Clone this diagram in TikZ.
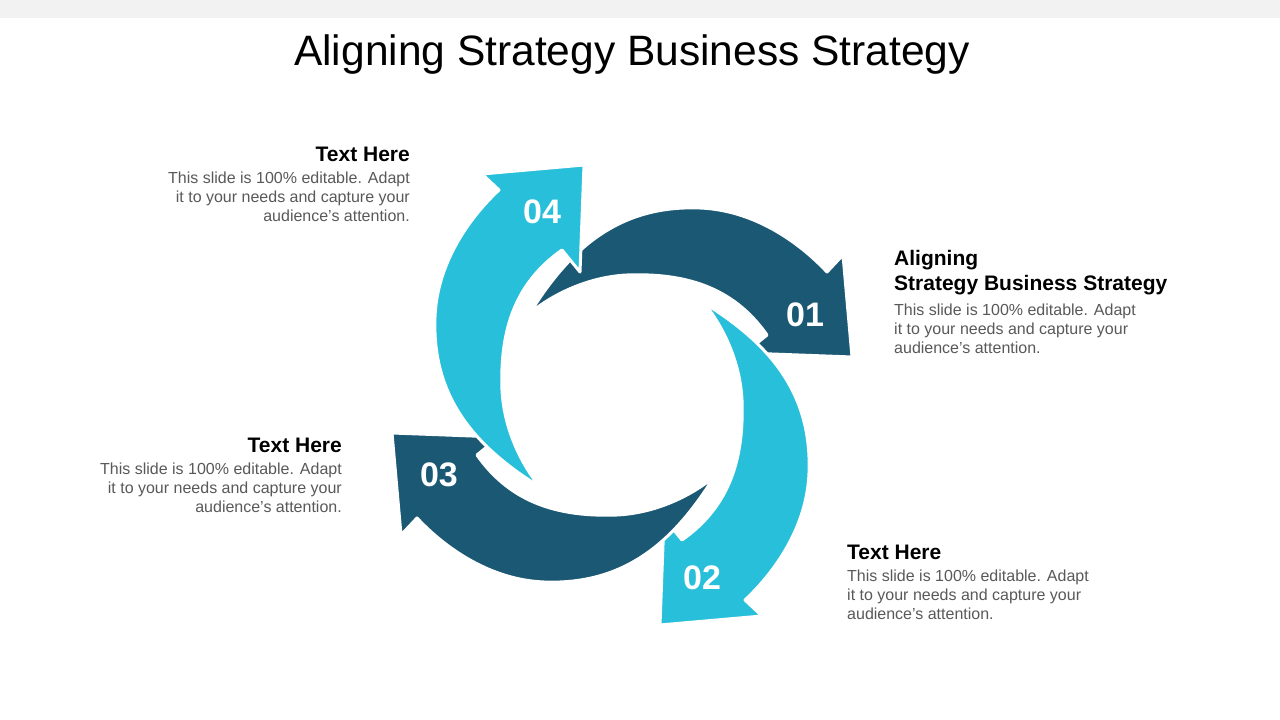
\documentclass[tikz,border=0pt]{standalone}
\usepackage{fontspec}
\setmainfont{Liberation Sans}
\usetikzlibrary{positioning}
\definecolor{darkteal}{HTML}{1A5873}
\definecolor{lightcyan}{HTML}{27BFD9}
\definecolor{bodygray}{HTML}{595959}

\tikzset{
    arrowband/.style = {draw = white, line width = 3pt, line join = round},
    numlabel/.style = {text = white, font = \fontsize{34}{34}\selectfont\bfseries},
    headline/.style = {font = \fontsize{21}{25}\selectfont\bfseries, inner sep = 0pt},
    bodytext/.style = {text = bodygray, font = \fontsize{16}{19}\selectfont, inner sep = 0pt}
}

% one curved arrow, drawn around the centre
\newcommand{\cyclearrow}[3]{%
    \begin{scope}[shift = {(622,325)}, rotate = #1]
        \path[arrowband, fill = #2]
            (-92,82) .. controls (-50,150) and (0,190) .. (78,187)
            .. controls (130,185) and (175,155) .. (205,123)
            -- (221,140) -- (230,38) -- (123,42) -- (145,60)
            .. controls (110,110) and (60,122) .. (5,120)
            .. controls (-35,118) and (-70,100) .. cycle;
        \node[numlabel] at (183,80) {#3};
    \end{scope}
}

\begin{document}
\begin{tikzpicture}[x = 1pt, y = 1pt]
    \useasboundingbox (0,0) rectangle (1280,720);
    \fill[white] (0,0) rectangle (1280,720);
    \fill[black!5] (0,702) rectangle (1280,720);

    \node[font = \fontsize{42.5}{42.5}\selectfont] (title) at (632,665) {Aligning Strategy Business Strategy};

    % arrows
    \cyclearrow{0}{darkteal}{01}
    \cyclearrow{-90}{lightcyan}{02}
    \cyclearrow{-180}{darkteal}{03}
    \cyclearrow{-270}{lightcyan}{04}

    % text blocks
    \node[headline, anchor = north west, align = left] (h1) at (894,470) {Aligning\\Strategy Business Strategy};
    \node[bodytext, align = left, below = 9pt of h1.south west, anchor = north west] (b1)
        {This slide is 100\% editable. Adapt\\it to your needs and capture your\\audience's attention.};

    \node[headline, anchor = north west] (h2) at (847,175) {Text Here};
    \node[bodytext, align = left, below = 10pt of h2.south west, anchor = north west] (b2)
        {This slide is 100\% editable. Adapt\\it to your needs and capture your\\audience's attention.};

    \node[headline, anchor = north east] (h3) at (342,282) {Text Here};
    \node[bodytext, align = right, below = 10pt of h3.south east, anchor = north east] (b3)
        {This slide is 100\% editable. Adapt\\it to your needs and capture your\\audience's attention.};

    \node[headline, anchor = north east] (h4) at (410,573) {Text Here};
    \node[bodytext, align = right, below = 10pt of h4.south east, anchor = north east] (b4)
        {This slide is 100\% editable. Adapt\\it to your needs and capture your\\audience's attention.};
\end{tikzpicture}
\end{document}
